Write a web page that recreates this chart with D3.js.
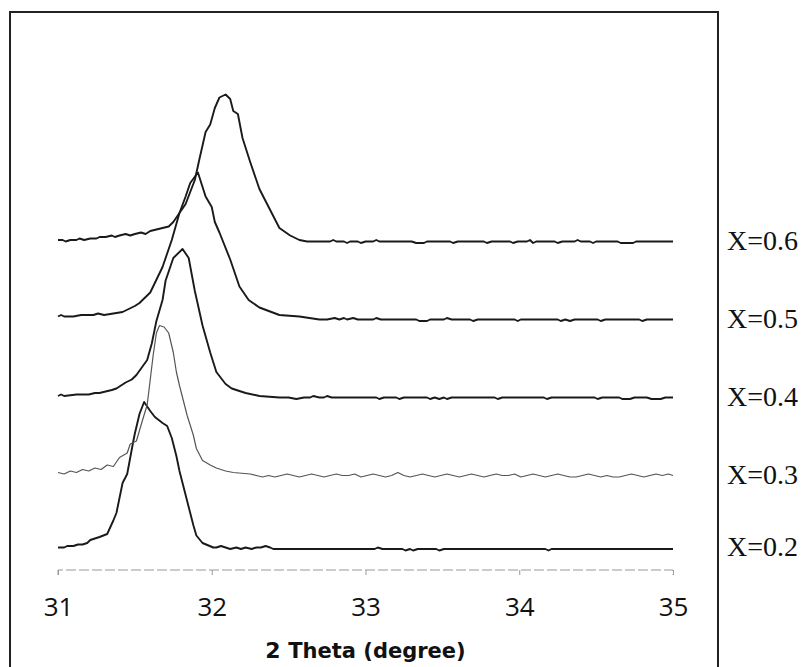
<!DOCTYPE html>
<html>
<head>
<meta charset="utf-8">
<script src="https://cdn.jsdelivr.net/npm/d3@7"></script>
<style>
  body { margin: 0; background: #fff; }
  svg { display: block; }
</style>
</head>
<body>
<div id="chart"></div>
<script>
// series labels and vertical offsets (stacked patterns)
const labels = ["X=0.2", "X=0.3", "X=0.4", "X=0.5", "X=0.6"];
const offsets = [15, 63, 115, 167, 219];
const xTicks = [31, 32, 33, 34, 35];

// [2theta, intensity]
const s02 = [[31.00,0],[31.04,0],[31.06,1],[31.10,1],[31.13,2],[31.16,2],[31.19,3],[31.21,5],[31.27,7],[31.32,9],[31.36,18],[31.38,23],[31.42,43],[31.45,49],[31.49,71],[31.50,76],[31.53,89],[31.56,97],[31.60,91],[31.63,87],[31.68,83],[31.71,81],[31.74,73],[31.77,61],[31.79,51],[31.84,31],[31.88,15],[31.90,8],[31.94,3],[32.01,0],
  [32.03,0],[32.06,1],[32.09,0],[32.12,-1],[32.16,0],[32.19,-1],[32.22,0],[32.26,-1],[32.29,0],[32.32,0],[32.35,1],[32.38,0],[32.40,-1],[33.06,-1],[33.08,0],[33.11,-1],[33.24,-1],[33.26,-2],[33.29,-1],[33.31,-2],[33.34,-1],[33.46,-1],[33.48,-2],[33.51,-1],[34.17,-1],[34.19,-2],[34.21,-1],[35.00,-1]];

const s03 = [[31.00,2],[31.04,1],[31.08,3],[31.12,2],[31.16,4],[31.20,3],[31.24,5],[31.28,4],[31.32,7],[31.36,6],[31.40,12],[31.45,15],[31.47,21],[31.51,23],[31.55,37],[31.58,47],[31.62,81],[31.64,95],[31.66,100],[31.69,99],[31.72,95],[31.75,82],[31.77,69],[31.79,60],[31.84,40],[31.88,27],[31.90,18],[31.94,10],[31.99,7],[32.03,5],[32.09,3],[32.14,2],[32.25,1],
  [32.29,0],[32.33,-1],[32.37,0],[32.41,-1],[32.45,0],[32.49,1],[32.53,0],[32.57,-1],[32.61,0],[32.65,1],[32.69,0],[32.73,-1],[32.77,0],[32.81,1],[32.85,0],[32.89,0],[32.93,1],[32.97,-1],[33.01,0],[33.05,1],[33.09,0],[33.13,-1],[33.17,0],[33.21,2],[33.25,0],[33.29,-1],[33.33,0],[33.37,1],[33.41,0],[33.45,-1],[33.49,0],[33.53,1],[33.57,0],[33.61,-1],[33.65,0],[33.69,1],[33.73,0],[33.77,-1],[33.81,0],[33.85,1],[33.89,0],[33.93,0],[33.97,1],[34.01,-1],[34.05,0],[34.09,1],[34.13,0],[34.17,-1],[34.21,0],[34.25,1],[34.29,0],[34.33,-1],[34.37,-1],[34.41,0],[34.45,1],[34.49,0],[34.53,-1],[34.57,0],[34.61,-1],[34.65,-1],[34.69,0],[34.73,1],[34.77,0],[34.81,-1],[34.85,0],[34.89,1],[34.93,0],[34.97,1],[35.00,0]];

const s04 = [[31.00,1],[31.02,2],[31.04,1],[31.12,2],[31.20,2],[31.24,3],[31.27,3],[31.31,4],[31.35,5],[31.38,6],[31.44,10],[31.48,12],[31.51,15],[31.58,25],[31.61,36],[31.64,51],[31.68,65],[31.70,78],[31.75,93],[31.81,99],[31.85,93],[31.89,71],[31.94,48],[31.99,30],[32.03,17],[32.09,9],[32.13,6],[32.22,3],[32.31,1],[32.44,0],
  [32.50,0],[32.55,-1],[32.60,0],[32.64,0],[32.66,1],[32.70,0],[32.73,0],[32.75,1],[32.78,0],[33.07,0],[33.09,-1],[33.12,0],[33.20,0],[33.22,-1],[33.25,0],[33.40,0],[33.42,-1],[33.45,0],[33.48,-1],[33.51,0],[33.53,-1],[33.56,0],[33.84,0],[33.86,-1],[33.89,0],[34.16,0],[34.18,-1],[34.21,0],[34.49,0],[34.51,-1],[34.54,0],[34.65,0],[34.67,-1],[34.72,-1],[34.75,0],[34.83,0],[34.86,-1],[34.92,-1],[34.95,0],[35.00,0]];

const s05 = [[31.00,2],[31.02,3],[31.04,2],[31.10,2],[31.15,3],[31.20,3],[31.23,3],[31.26,4],[31.30,3],[31.36,4],[31.42,5],[31.46,7],[31.50,9],[31.53,11],[31.60,18],[31.68,35],[31.74,53],[31.79,71],[31.83,82],[31.86,91],[31.91,98],[31.96,82],[32.00,75],[32.02,65],[32.05,58],[32.12,40],[32.18,22],[32.24,13],[32.31,8],[32.44,3],[32.57,2],[32.70,0],
  [32.75,0],[32.80,1],[32.83,0],[32.86,1],[32.88,0],[32.92,1],[32.95,0],[33.05,0],[33.07,1],[33.10,0],[33.33,0],[33.35,-1],[33.40,-1],[33.42,0],[33.51,0],[33.53,1],[33.56,0],[33.68,0],[33.70,-1],[33.73,0],[33.97,0],[33.99,-1],[34.01,0],[34.25,0],[34.27,-1],[34.30,0],[34.33,-1],[34.36,0],[34.51,0],[34.53,-1],[34.56,0],[34.78,0],[34.80,-1],[34.83,0],[35.00,0]];

const s06 = [[31.00,1],[31.03,1],[31.05,0],[31.08,1],[31.12,1],[31.14,2],[31.17,1],[31.21,2],[31.25,2],[31.27,3],[31.31,3],[31.35,4],[31.37,3],[31.40,4],[31.44,5],[31.47,4],[31.50,5],[31.54,6],[31.57,5],[31.60,7],[31.64,8],[31.68,9],[31.72,10],[31.75,13],[31.83,25],[31.89,41],[31.92,55],[31.96,73],[31.99,78],[32.02,89],[32.05,96],[32.09,98],[32.12,95],[32.14,87],[32.17,85],[32.20,69],[32.25,53],[32.31,35],[32.38,21],[32.44,9],[32.51,4],[32.57,1],
  [32.62,0],[32.70,0],[32.77,0],[32.79,1],[32.81,0],[32.86,0],[32.88,-1],[32.90,0],[32.95,0],[32.97,-1],[33.00,0],[33.05,0],[33.07,1],[33.09,0],[33.30,0],[33.33,-1],[33.38,-1],[33.40,0],[33.55,0],[33.57,-1],[33.60,0],[33.77,0],[33.79,-1],[33.82,0],[33.94,0],[33.96,-1],[33.99,0],[34.05,0],[34.07,1],[34.09,-1],[34.11,0],[34.23,0],[34.25,-1],[34.28,0],[34.36,0],[34.38,1],[34.40,0],[34.46,0],[34.48,-1],[34.50,0],[34.64,0],[34.66,-1],[34.74,-1],[34.76,0],[35.00,0]];

const seriesData = [s02, s03, s04, s05, s06];

const width = 811, height = 667;
const svg = d3.select("#chart").append("svg")
    .attr("width", width)
    .attr("height", height);

svg.append("rect").attr("width", width).attr("height", height).attr("fill", "#fff");

// outer frame (runs off the bottom edge)
svg.append("path")
    .attr("d", "M10,670 L10,12 L718,12 L718,670")
    .attr("fill", "none")
    .attr("stroke", "#222")
    .attr("stroke-width", 2);

const x = d3.scaleLinear().domain([31, 35]).range([58, 673]);
const y = d3.scaleLinear().domain([0, 372]).range([570, 12]);

const line = d3.line()
    .x(d => x(d[0]))
    .y(d => y(d[1]));

const gLines = svg.append("g");
seriesData.forEach((s, i) => {
    gLines.append("path")
        .datum(s.map(d => [d[0], d[1] + offsets[i]]))
        .attr("fill", "none")
        .attr("stroke", i === 1 ? "#555" : "#1a1a1a")
        .attr("stroke-width", i === 1 ? 1.2 : 1.9)
        .attr("stroke-linejoin", "round")
        .attr("d", line);
});

// x axis
const axis = svg.append("g")
    .attr("transform", "translate(0,570)")
    .call(d3.axisBottom(x).tickValues(xTicks).tickSize(5).tickPadding(23).tickFormat(d3.format("d")));
axis.select(".domain").attr("stroke", "#999").attr("stroke-dasharray", "10,3").attr("d", "M58,5V0H673V5");
axis.selectAll(".tick line").attr("stroke", "#999");
axis.selectAll(".tick text")
    .attr("fill", "#111")
    .style("font-family", "'Open Sans', sans-serif")
    .style("font-size", "26px");

const title = svg.append("text")
    .attr("x", x(33))
    .attr("y", 658)
    .attr("text-anchor", "middle")
    .style("font-family", "'DejaVu Sans', sans-serif")
    .style("font-weight", "bold")
    .attr("fill", "#111");
title.append("tspan").style("font-size", "22px").text("2 ");
title.append("tspan").style("font-size", "21px").text("Theta (degree)");

// series labels on the right
svg.append("g").selectAll("text")
    .data(labels)
    .join("text")
    .attr("x", 727)
    .attr("y", (d, i) => y(offsets[i]) + 8)
    .style("font-family", "'Liberation Serif', 'Times New Roman', serif")
    .style("font-size", "28px")
    .attr("fill", "#111")
    .text(d => d);
</script>
</body>
</html>
